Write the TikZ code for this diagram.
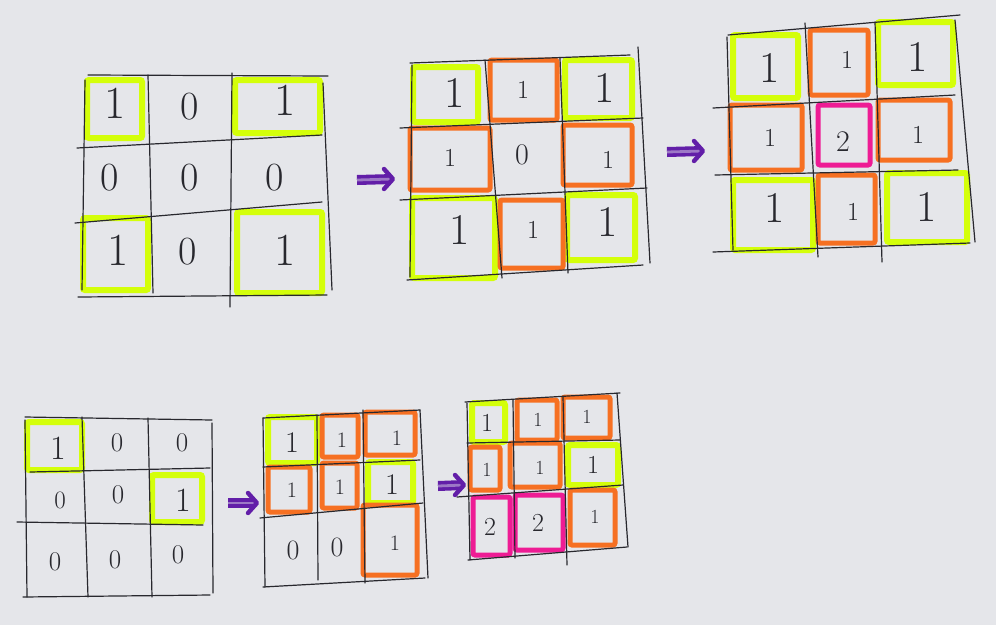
\documentclass[tikz,border=0pt]{standalone}
\usepackage{fontspec}
\usepackage{xcolor}
\usepackage{tikz}
\usetikzlibrary{calc}

\definecolor{paper}{RGB}{229,230,234}
\definecolor{lead}{RGB}{40,40,46}
\definecolor{limemark}{RGB}{212,255,10}
\definecolor{orangemark}{RGB}{246,112,34}
\definecolor{pinkmark}{RGB}{238,28,148}
\definecolor{purplemark}{RGB}{98,30,168}

\tikzset{
  pencil/.style={draw=lead, line width=1.2pt, line cap=round},
  limebox/.style={draw=limemark, line width=6pt, rounded corners=2pt},
  orangebox/.style={draw=orangemark, line width=5pt, rounded corners=2pt},
  pinkbox/.style={draw=pinkmark, line width=5pt, rounded corners=2pt},
  digit/.style={inner sep=0pt, text=lead, font=\fontsize{#1}{#1}\selectfont},
  goshaft/.style={draw=purplemark, line width=3.6pt, double=purplemark!55!paper,
    double distance=2.8pt, shorten >=3pt},
  gohead/.style={draw=purplemark, line width=4.4pt, line cap=round, line join=round}
}

\begin{document}
\begin{tikzpicture}[x=1pt, y=-1pt]
  \fill[paper] (0,0) rectangle (996,625);
  \useasboundingbox (0,0) rectangle (996,625);

  % highlighter boxes first, pencil on top
  \foreach \a/\b/\c/\d in {87/80/142/138, 235/80/320/133, 83/218/148/290, 237/212/322/293,
      413/67/478/122, 565/60/632/118, 412/198/495/278, 567/195/635/260,
      733/35/798/98, 878/22/953/85, 733/180/813/250, 887/173/967/242,
      27/422/82/470, 152/475/202/522,
      268/417/317/463, 368/462/413/503,
      472/403/505/442, 568/445/618/485}
    \draw[limebox] (\a,\b) rectangle (\c,\d);
  \foreach \a/\b/\c/\d in {490/60/557/120, 410/128/490/190, 563/125/632/185, 500/200/563/268,
      810/30/868/95, 730/105/802/170, 878/100/950/160, 818/175/875/243,
      322/415/358/457, 365/412/415/455, 268/467/310/512, 322/463/357/508, 363/505/417/575,
      517/400/557/440, 563/397/610/438, 470/447/500/490, 510/443/560/487, 570/490/615/545}
    \draw[orangebox] (\a,\b) rectangle (\c,\d);
  \foreach \a/\b/\c/\d in {818/105/870/165, 473/497/510/555, 515/495/563/550}
    \draw[pinkbox] (\a,\b) rectangle (\c,\d);

  % grid lines, one pencil stroke each
  \foreach \a/\b/\c/\d in {88/75/328/76, 77/148/322/135, 75/223/322/202, 78/297/327/295,
      85/80/82/290, 148/75/153/293, 232/73/230/307, 323/83/332/290}
    \draw[pencil] (\a,\b) -- (\c,\d);
  \foreach \a/\b/\c/\d in {410/63/630/55, 400/128/643/118, 400/200/647/188, 407/280/643/265,
      412/65/410/277, 485/60/502/278, 560/58/568/273, 638/47/650/263}
    \draw[pencil] (\a,\b) -- (\c,\d);
  \foreach \a/\b/\c/\d in {728/35/960/15, 713/108/955/95, 715/175/958/170, 713/252/970/243,
      727/37/733/250, 805/23/818/257, 875/22/882/262, 955/20/975/242}
    \draw[pencil] (\a,\b) -- (\c,\d);
  \foreach \a/\b/\c/\d in {25/417/212/420, 30/472/210/468, 17/522/203/525, 23/597/210/595,
      25/420/27/597, 82/417/88/597, 148/418/152/597, 212/423/213/593}
    \draw[pencil] (\a,\b) -- (\c,\d);
  \foreach \a/\b/\c/\d in {263/418/420/410, 263/467/420/460, 260/518/423/503, 263/587/425/578,
      263/418/265/587, 317/415/318/580, 363/410/365/583, 420/410/428/578}
    \draw[pencil] (\a,\b) -- (\c,\d);
  \foreach \a/\b/\c/\d in {465/402/620/393, 467/443/620/440, 457/497/623/485, 468/560/627/547,
      467/403/470/560, 513/400/515/558, 563/397/567/565, 617/393/628/547}
    \draw[pencil] (\a,\b) -- (\c,\d);

  % cell values
  \foreach \n/\x/\y/\t/\s in {11/115/103/1/46, 12/190/107/0/40, 13/285/100/1/46,
      21/110/178/0/40, 22/190/178/0/40, 23/275/178/0/40,
      31/118/250/1/46, 32/188/252/0/40, 33/285/250/1/46}
    \node[digit=\s] (gA\n) at (\x,\y) {\t};
  \foreach \n/\x/\y/\t/\s in {11/455/93/1/44, 12/523/90/1/26, 13/605/88/1/44,
      21/450/158/1/26, 22/522/155/0/30, 23/608/160/1/26,
      31/460/230/1/44, 32/533/230/1/26, 33/608/222/1/44}
    \node[digit=\s] (gB\n) at (\x,\y) {\t};
  \foreach \n/\x/\y/\t/\s in {11/770/68/1/44, 12/847/60/1/26, 13/918/57/1/44,
      21/770/138/1/26, 22/843/142/2/30, 23/918/135/1/26,
      31/775/208/1/44, 32/853/212/1/26, 33/927/207/1/44}
    \node[digit=\s] (gC\n) at (\x,\y) {\t};
  \foreach \n/\x/\y/\t/\s in {11/58/448/1/34, 12/117/443/0/27, 13/182/443/0/27,
      21/60/500/0/25, 22/118/495/0/27, 23/183/500/1/34,
      31/55/562/0/27, 32/115/560/0/27, 33/178/555/0/27}
    \node[digit=\s] (gD\n) at (\x,\y) {\t};
  \foreach \n/\x/\y/\t/\s in {11/292/443/1/30, 12/342/440/1/22, 13/397/438/1/22,
      21/292/490/1/22, 22/340/487/1/22, 23/392/485/1/30,
      31/293/550/0/28, 32/337/547/0/28, 33/395/543/1/22}
    \node[digit=\s] (gE\n) at (\x,\y) {\t};
  \foreach \n/\x/\y/\t/\s in {11/487/423/1/26, 12/538/420/1/20, 13/587/417/1/20,
      21/487/470/1/20, 22/540/468/1/20, 23/593/465/1/26,
      31/490/527/2/26, 32/538/523/2/26, 33/595/517/1/20}
    \node[digit=\s] (gF\n) at (\x,\y) {\t};

  % steps between the grids
  \coordinate (fromA) at (357,180);
  \coordinate (toA) at (393,179);
  \coordinate (fromB) at (667,152);
  \coordinate (toB) at (703,151);
  \coordinate (fromC) at (228,503);
  \coordinate (toC) at (257,503);
  \coordinate (fromD) at (438,486);
  \coordinate (toD) at (464,485);
  \foreach \s in {A,B,C,D} {
    \draw[goshaft] (from\s) -- (to\s);
    \draw[gohead] ($(to\s)+(-9,-10)$) -- (to\s) -- ($(to\s)+(-9,10)$);
  }
\end{tikzpicture}
\end{document}
